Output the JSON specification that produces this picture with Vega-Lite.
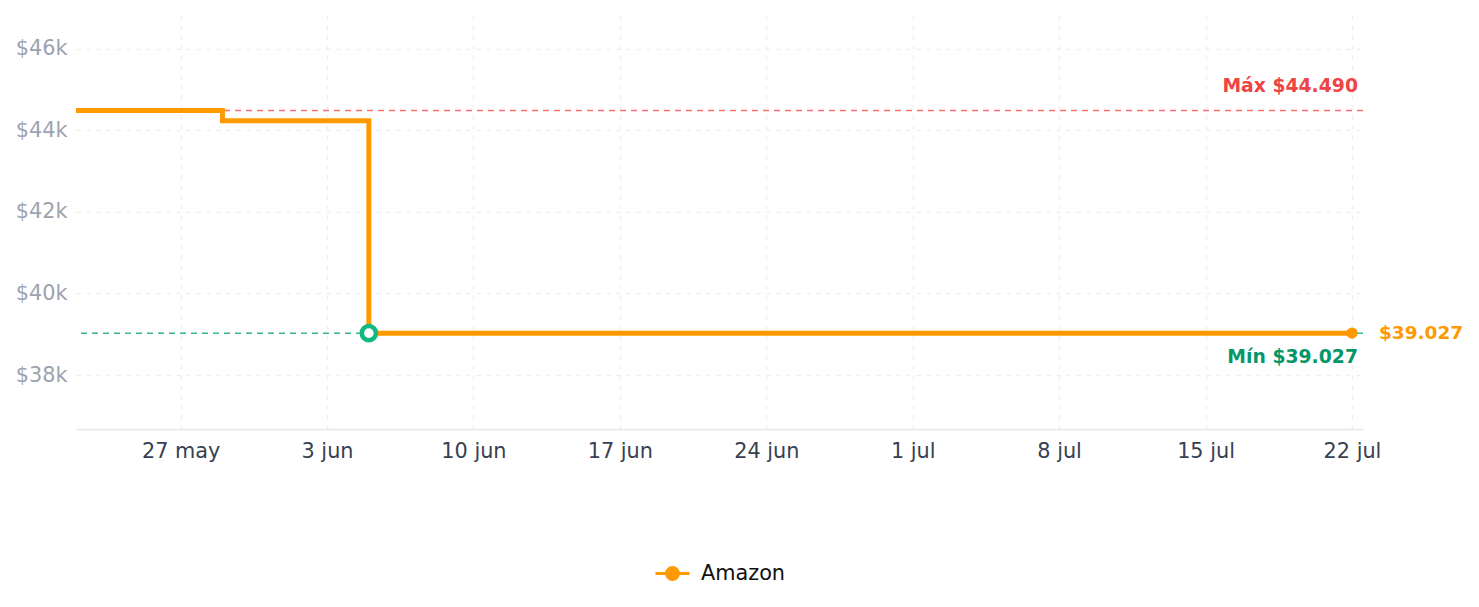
{
  "$schema": "https://vega.github.io/schema/vega-lite/v6.json",
  "width": 1287,
  "height": 414,
  "autosize": {"type": "none"},
  "padding": {"left": 76, "top": 15, "right": 116, "bottom": 178},
  "background": "white",
  "config": {
    "view": {"stroke": null},
    "font": "DejaVu Sans",
    "axis": {
      "grid": true,
      "gridColor": "#eeeeee",
      "gridDash": [4, 6],
      "gridWidth": 1.5,
      "ticks": false,
      "domain": false,
      "labelFont": "DejaVu Sans",
      "labelFontSize": 20.8,
      "title": null
    },
    "axisX": {"domain": true, "domainColor": "#e5e7eb", "domainWidth": 1.5, "labelColor": "#374151", "labelPadding": 12},
    "axisY": {"labelColor": "#9ca3af", "labelPadding": 9}
  },
  "datasets": {
    "prices": [
      {"date": "2025-05-22T00:00:00", "price": 44490, "store": "Amazon"},
      {"date": "2025-05-29T00:00:00", "price": 44240, "store": "Amazon"},
      {"date": "2025-06-05T00:00:00", "price": 39027, "store": "Amazon"},
      {"date": "2025-07-22T00:00:00", "price": 39027, "store": "Amazon"}
    ],
    "refs": [
      {"kind": "max", "price": 44490, "date": "2025-07-22T00:00:00", "label": "Máx $44.490"},
      {"kind": "min", "price": 39027, "date": "2025-07-22T00:00:00", "label": "Mín $39.027"}
    ],
    "minpoint": [{"date": "2025-06-05T00:00:00", "price": 39027}],
    "last": [{"date": "2025-07-22T00:00:00", "price": 39027, "label": "$39.027"}]
  },
  "layer": [
    {
      "data": {"name": "refs"},
      "transform": [{"filter": "datum.kind === 'max'"}],
      "mark": {"type": "rule", "color": "#f87171", "strokeWidth": 1.5, "strokeDash": [6, 5]},
      "encoding": {
        "y": {"field": "price", "type": "quantitative", "title": null,
              "scale": {"domain": [36675, 46834], "nice": false, "zero": false},
              "axis": {"values": [38000, 40000, 42000, 44000, 46000], "labelExpr": "'$' + format(datum.value / 1000, 'd') + 'k'"}}
      }
    },
    {
      "data": {"name": "refs"},
      "transform": [{"filter": "datum.kind === 'min'"}],
      "mark": {"type": "rule", "color": "#34b98a", "strokeWidth": 1.5, "strokeDash": [6, 5]},
      "encoding": {
        "y": {"field": "price", "type": "quantitative", "title": null}
      }
    },
    {
      "data": {"name": "prices"},
      "mark": {"type": "line", "interpolate": "step-after", "strokeWidth": 5},
      "encoding": {
        "x": {"field": "date", "type": "temporal", "title": null,
              "scale": {"domain": [{"year": 2025, "month": 5, "date": 22}, {"year": 2025, "month": 7, "date": 22, "hours": 12, "minutes": 40}]},
              "axis": {
                "values": [
                  {"year": 2025, "month": 5, "date": 27},
                  {"year": 2025, "month": 6, "date": 3},
                  {"year": 2025, "month": 6, "date": 10},
                  {"year": 2025, "month": 6, "date": 17},
                  {"year": 2025, "month": 6, "date": 24},
                  {"year": 2025, "month": 7, "date": 1},
                  {"year": 2025, "month": 7, "date": 8},
                  {"year": 2025, "month": 7, "date": 15},
                  {"year": 2025, "month": 7, "date": 22}
                ],
                "labelExpr": "lower(timeFormat(datum.value, '%-d %b'))"
              }},
        "y": {"field": "price", "type": "quantitative", "title": null},
        "color": {"field": "store", "type": "nominal",
                  "scale": {"domain": ["Amazon"], "range": ["#ff9900"]},
                  "legend": {
                    "orient": "none",
                    "legendX": 578,
                    "legendY": 540,
                    "title": null,
                    "padding": 0,
                    "symbolType": "M-1,0H1M-0.35,0A0.35,0.35,0,1,1,0.35,0A0.35,0.35,0,1,1,-0.35,0Z",
                    "symbolSize": 1156,
                    "symbolStrokeWidth": 3,
                    "symbolFillColor": "#ff9900",
                    "symbolStrokeColor": "#ff9900",
                    "labelFont": "DejaVu Sans",
                    "labelFontSize": 20.8,
                    "labelColor": "#111111",
                    "labelOffset": 10,
                    "encode": {"symbols": {"update": {"fill": {"value": "#ff9900"}, "stroke": {"value": "#ff9900"}, "strokeWidth": {"value": 3}}}}
                  }}
      }
    },
    {
      "data": {"name": "last"},
      "mark": {"type": "point", "filled": true, "color": "#ff9900", "size": 125, "opacity": 1},
      "encoding": {
        "x": {"field": "date", "type": "temporal", "title": null},
        "y": {"field": "price", "type": "quantitative", "title": null}
      }
    },
    {
      "data": {"name": "minpoint"},
      "mark": {"type": "point", "shape": "circle", "filled": false, "fill": "white", "fillOpacity": 1, "stroke": "#10b981", "strokeWidth": 4.5, "size": 200, "opacity": 1},
      "encoding": {
        "x": {"field": "date", "type": "temporal", "title": null},
        "y": {"field": "price", "type": "quantitative", "title": null}
      }
    },
    {
      "data": {"name": "refs"},
      "transform": [{"filter": "datum.kind === 'max'"}],
      "mark": {"type": "text", "align": "right", "baseline": "middle", "dx": 6, "dy": -25, "font": "DejaVu Sans", "fontSize": 18.8, "fontWeight": "bold", "color": "#ef4444"},
      "encoding": {
        "x": {"field": "date", "type": "temporal", "title": null},
        "y": {"field": "price", "type": "quantitative", "title": null},
        "text": {"field": "label"}
      }
    },
    {
      "data": {"name": "refs"},
      "transform": [{"filter": "datum.kind === 'min'"}],
      "mark": {"type": "text", "align": "right", "baseline": "middle", "dx": 6, "dy": 24, "font": "DejaVu Sans", "fontSize": 18.8, "fontWeight": "bold", "color": "#059669"},
      "encoding": {
        "x": {"field": "date", "type": "temporal", "title": null},
        "y": {"field": "price", "type": "quantitative", "title": null},
        "text": {"field": "label"}
      }
    },
    {
      "data": {"name": "last"},
      "mark": {"type": "text", "align": "left", "baseline": "middle", "dx": 27, "font": "DejaVu Sans", "fontSize": 18.5, "fontWeight": "bold", "color": "#ff9900"},
      "encoding": {
        "x": {"field": "date", "type": "temporal", "title": null},
        "y": {"field": "price", "type": "quantitative", "title": null},
        "text": {"field": "label"}
      }
    }
  ]
}
